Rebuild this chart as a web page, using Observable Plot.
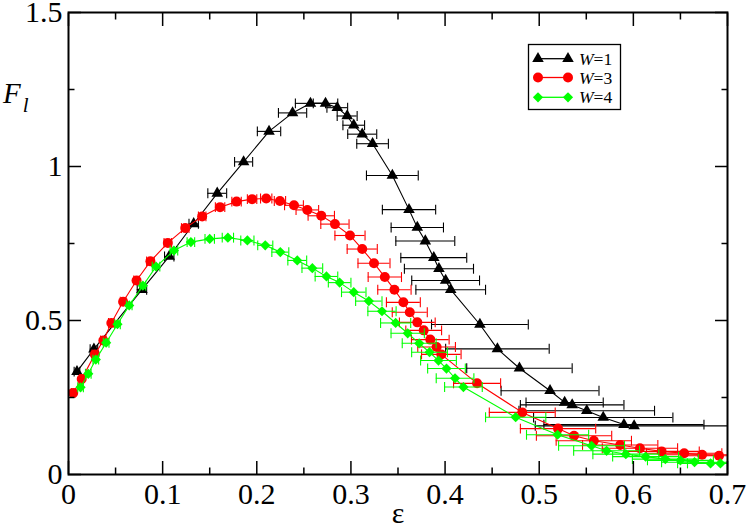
<!DOCTYPE html>
<html><head><meta charset="utf-8">
<script src="https://cdn.jsdelivr.net/npm/d3@7"></script>
<script src="https://cdn.jsdelivr.net/npm/@observablehq/plot@0.6"></script>
<style>
body{margin:0;background:#fff}
svg{display:block}
#chart svg text, #chart svg tspan {font-family: "Liberation Serif", "DejaVu Serif", serif !important;}
</style>
</head><body><div id="chart"></div>
<script>
// ---- data ----
const seriesNames = ["W=1", "W=3", "W=4"];
const seriesColors = ["#000000", "#ff0000", "#00ff00"];
const seriesSymbols = ["triangle", "circle", "diamond2"];

const w1X = [0.009, 0.027, 0.078, 0.107, 0.133, 0.158, 0.186, 0.213, 0.238, 0.257, 0.273, 0.2855, 0.296, 0.303, 0.312, 0.323, 0.344, 0.3617, 0.3705, 0.379, 0.388, 0.3935, 0.4006, 0.406, 0.437, 0.4556, 0.479, 0.5115, 0.527, 0.535, 0.5505, 0.568, 0.590, 0.6008];
const w1Y = [0.334, 0.407, 0.600, 0.708, 0.814, 0.913, 1.015, 1.114, 1.174, 1.205, 1.205, 1.191, 1.164, 1.134, 1.105, 1.074, 0.971, 0.860, 0.802, 0.758, 0.704, 0.668, 0.630, 0.600, 0.487, 0.408, 0.345, 0.272, 0.234, 0.226, 0.207, 0.185, 0.162, 0.158];
const w1Err = [0.003, 0.004, 0.005, 0.005, 0.005, 0.010, 0.0096, 0.0124, 0.015, 0.016, 0.013, 0.011, 0.0106, 0.0115, 0.0154, 0.0168, 0.0275, 0.0283, 0.0278, 0.0313, 0.035, 0.0367, 0.036, 0.037, 0.0514, 0.055, 0.056, 0.052, 0.041, 0.055, 0.072, 0.074, 0.085, 0.105];

const w3X = [0.005, 0.014, 0.028, 0.037, 0.0455, 0.058, 0.0723, 0.087, 0.1055, 0.124, 0.142, 0.161, 0.1785, 0.195, 0.210, 0.2246, 0.2395, 0.2537, 0.2685, 0.283, 0.299, 0.312, 0.3245, 0.336, 0.3462, 0.3557, 0.3625, 0.3705, 0.3773, 0.3843, 0.3910, 0.3960, 0.434, 0.482, 0.520, 0.537, 0.558, 0.586, 0.607, 0.630, 0.654, 0.673, 0.691];
const w3Y = [0.265, 0.310, 0.390, 0.435, 0.492, 0.561, 0.630, 0.692, 0.752, 0.800, 0.838, 0.868, 0.886, 0.894, 0.896, 0.888, 0.874, 0.859, 0.840, 0.813, 0.776, 0.732, 0.686, 0.641, 0.600, 0.559, 0.527, 0.494, 0.468, 0.438, 0.414, 0.390, 0.296, 0.2016, 0.149, 0.126, 0.1096, 0.096, 0.085, 0.075, 0.069, 0.064, 0.061];
const w3Err = [0.002, 0.002, 0.003, 0.003, 0.003, 0.003, 0.003, 0.004, 0.004, 0.004, 0.004, 0.005, 0.005, 0.005, 0.006, 0.006, 0.010, 0.012, 0.014, 0.015, 0.016, 0.016, 0.017, 0.0177, 0.0177, 0.018, 0.0186, 0.019, 0.019, 0.02, 0.02, 0.021, 0.025, 0.035, 0.04, 0.04, 0.04, 0.04, 0.04, 0.04, 0.04, 0.04, 0.04];

const w4X = [0.0128, 0.0210, 0.029, 0.040, 0.052, 0.0645, 0.079, 0.093, 0.112, 0.130, 0.150, 0.1693, 0.190, 0.209, 0.225, 0.243, 0.259, 0.274, 0.288, 0.303, 0.319, 0.333, 0.3475, 0.3603, 0.3725, 0.3835, 0.393, 0.4015, 0.4106, 0.4195, 0.475, 0.5195, 0.5556, 0.5716, 0.592, 0.613, 0.634, 0.650, 0.665, 0.682, 0.6925];
const w4Y = [0.283, 0.327, 0.373, 0.428, 0.488, 0.549, 0.613, 0.675, 0.727, 0.7545, 0.765, 0.769, 0.760, 0.744, 0.722, 0.695, 0.670, 0.643, 0.623, 0.592, 0.563, 0.530, 0.492, 0.4585, 0.426, 0.397, 0.370, 0.344, 0.3125, 0.284, 0.186, 0.129, 0.0934, 0.077, 0.066, 0.058, 0.050, 0.046, 0.040, 0.036, 0.036];
const w4Err = [0.003, 0.003, 0.003, 0.003, 0.003, 0.003, 0.003, 0.004, 0.004, 0.004, 0.005, 0.006, 0.007, 0.008, 0.009, 0.010, 0.011, 0.012, 0.012, 0.013, 0.014, 0.015, 0.016, 0.0177, 0.018, 0.019, 0.019, 0.02, 0.02, 0.02, 0.032, 0.033, 0.035, 0.035, 0.035, 0.035, 0.035, 0.035, 0.035, 0.035, 0.035];

const xMajor = [0, 0.1, 0.2, 0.3, 0.4, 0.5, 0.6, 0.7];
const xMinor = [0.05, 0.15, 0.25, 0.35, 0.45, 0.55, 0.65];
const yMajor = [0, 0.5, 1, 1.5];
const yMinor = [0.25, 0.75, 1.25];

// ---- build tables ----
const allX = [w1X, w3X, w4X], allY = [w1Y, w3Y, w4Y], allE = [w1Err, w3Err, w4Err];
const tables = seriesNames.map((s, i) => allX[i].map((x, j) => ({series: s, x, y: allY[i][j], e: allE[i][j]})));

const capSymbol = {draw(ctx, size) { const h = Math.sqrt(size) / 2; ctx.moveTo(0, -h); ctx.lineTo(0, h); }};
const font = "'Liberation Serif', 'DejaVu Serif', serif";
const fmt = d => String(+(+d).toFixed(2));
const markerR = [4.3, 5, 4.6];

const marks = [];
tables.forEach((data, i) => {
  const c = seriesColors[i];
  marks.push(
    Plot.ruleY(data, {y: "y", x1: d => d.x - d.e, x2: d => d.x + d.e, stroke: c, strokeWidth: 1.1, clip: true}),
    Plot.dot(data, {x: d => d.x - d.e, y: "y", symbol: capSymbol, r: 5.6, stroke: c, fill: "none", strokeWidth: 1.1, clip: true}),
    Plot.dot(data, {x: d => d.x + d.e, y: "y", symbol: capSymbol, r: 5.6, stroke: c, fill: "none", strokeWidth: 1.1, clip: true}),
    Plot.line(data, {x: "x", y: "y", stroke: c, strokeWidth: 1.1, clip: true}),
    Plot.dot(data, {x: "x", y: "y", symbol: seriesSymbols[i], r: markerR[i], fill: c, stroke: "none"})
  );
});

const chart = Plot.plot({
  width: 747,
  height: 529,
  marginLeft: 68,
  marginTop: 12,
  marginRight: 20,
  marginBottom: 55,
  style: {fontFamily: font, fontSize: "30px", color: "#000", background: "#fff"},
  x: {domain: [0, 0.7]},
  y: {domain: [0, 1.5]},
  marks: [
    ...marks,
    Plot.frame({stroke: "#000", strokeWidth: 2}),
    // labels
    Plot.axisX({ticks: xMajor, tickSize: 0, tickPadding: 8, label: null, fontSize: 30, fontFamily: font, tickFormat: fmt}),
    Plot.axisY({ticks: yMajor, tickSize: 0, tickPadding: 6, label: null, fontSize: 30, fontFamily: font, tickFormat: fmt}),
    // inward ticks
    Plot.axisX({anchor: "bottom", ticks: xMajor, tickSize: -13, tickFormat: () => "", label: null, strokeWidth: 1.5}),
    Plot.axisX({anchor: "bottom", ticks: xMinor, tickSize: -6.5, tickFormat: () => "", label: null, strokeWidth: 1.5}),
    Plot.axisX({anchor: "top", ticks: xMajor, tickSize: -13, tickFormat: () => "", label: null, strokeWidth: 1.5}),
    Plot.axisX({anchor: "top", ticks: xMinor, tickSize: -6.5, tickFormat: () => "", label: null, strokeWidth: 1.5}),
    Plot.axisY({anchor: "left", ticks: yMajor, tickSize: -13, tickFormat: () => "", label: null, strokeWidth: 1.5}),
    Plot.axisY({anchor: "left", ticks: yMinor, tickSize: -6.5, tickFormat: () => "", label: null, strokeWidth: 1.5}),
    Plot.axisY({anchor: "right", ticks: yMajor, tickSize: -13, tickFormat: () => "", label: null, strokeWidth: 1.5}),
    Plot.axisY({anchor: "right", ticks: yMinor, tickSize: -6.5, tickFormat: () => "", label: null, strokeWidth: 1.5})
  ]
});

document.getElementById("chart").appendChild(chart);

// ---- axis titles and legend ----
const svg = d3.select(chart);
svg.append("text").attr("x", 398).attr("y", 523).attr("text-anchor", "middle")
  .attr("font-family", font).attr("font-size", 30).text("ε");
const fl = svg.append("text").attr("x", 3).attr("y", 103).attr("text-anchor", "start")
  .attr("font-family", font).attr("font-size", 29).attr("font-style", "italic");
fl.append("tspan").text("F");
fl.append("tspan").attr("font-size", 21).attr("dy", 9).attr("dx", 2).text("l");

const lg = svg.append("g");
lg.append("rect").attr("x", 528.5).attr("y", 44.5).attr("width", 92).attr("height", 65)
  .attr("fill", "#fff").attr("stroke", "#000").attr("stroke-width", 1.3);
const symMap = {triangle: d3.symbolTriangle, circle: d3.symbolCircle, diamond2: d3.symbolDiamond2};
const rowY = [58.7, 77.5, 97.3];
seriesNames.forEach((s, i) => {
  const y = rowY[i], c = seriesColors[i];
  lg.append("line").attr("x1", 538).attr("x2", 568).attr("y1", y).attr("y2", y).attr("stroke", c).attr("stroke-width", 1.3);
  [538, 568].forEach(x => {
    lg.append("path").attr("d", d3.symbol(symMap[seriesSymbols[i]], Math.PI * markerR[i] * markerR[i])())
      .attr("transform", `translate(${x},${y})`).attr("fill", c);
  });
  const t = lg.append("text").attr("x", 579).attr("y", y + 6).attr("text-anchor", "start")
    .attr("font-family", font).attr("font-size", 17.5);
  t.append("tspan").attr("font-style", "italic").text("W");
  t.append("tspan").text(s.slice(1));
});
</script></body></html>
